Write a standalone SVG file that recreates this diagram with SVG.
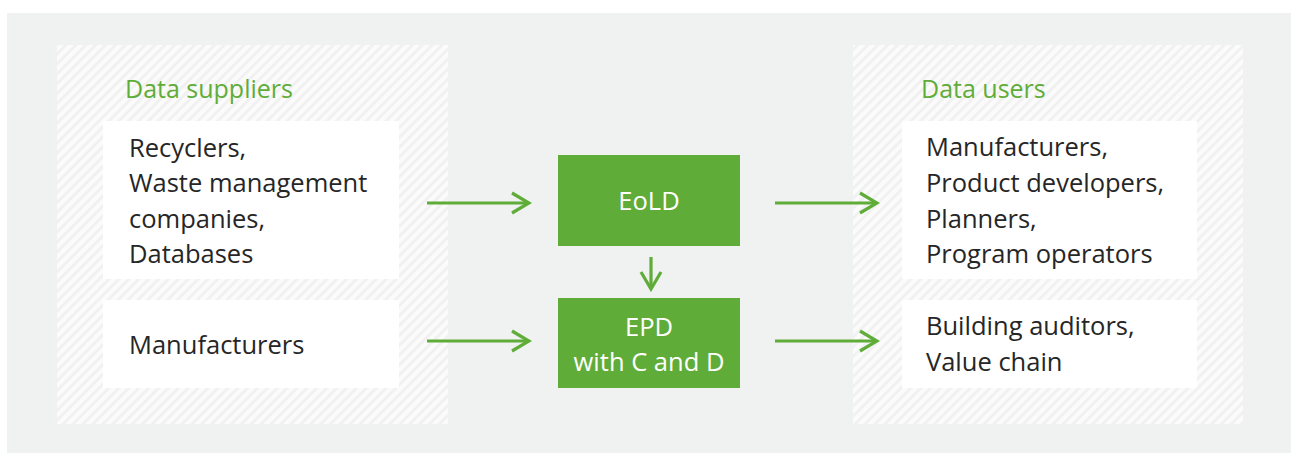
<svg xmlns="http://www.w3.org/2000/svg" width="1291" height="453" viewBox="0 0 1291 453">
  <defs>
    <pattern id="hatch" width="7" height="7" patternUnits="userSpaceOnUse" patternTransform="rotate(45)">
      <rect width="7" height="7" fill="#fbfbfb"/>
      <rect width="3" height="7" fill="#f1f1f1"/>
    </pattern>
    <marker id="chev" viewBox="0 0 24 24" refX="21" refY="12" markerWidth="24" markerHeight="24" markerUnits="userSpaceOnUse" orient="auto">
      <path d="M4 2 L21 12 L4 22" fill="none" stroke="#5fad38" stroke-width="3.2"/>
    </marker>
    <style>
      .panel { fill: url(#hatch); }
      .card { fill: #ffffff; }
      .hub { fill: #5fad38; }
      .head { font-family: "Open Sans", "Noto Sans", sans-serif; font-size: 25px; fill: #5fad38; }
      .txt { font-family: "Open Sans", "Noto Sans", sans-serif; font-size: 25.5px; fill: #262626; }
      .hubtxt { font-family: "Open Sans", "Noto Sans", sans-serif; font-size: 25.5px; fill: #ffffff; text-anchor: middle; }
      .arrow { stroke: #5fad38; stroke-width: 3.2; fill: none; marker-end: url(#chev); }
    </style>
  </defs>

  <!-- backdrop -->
  <rect x="7" y="13" width="1284" height="440" fill="#f0f1f1"/>

  <!-- suppliers side -->
  <g id="suppliers">
    <rect class="panel" x="57" y="45" width="391" height="379"/>
    <text class="head" x="125" y="98">Data suppliers</text>
  </g>
  <g id="recyclers">
    <rect class="card" x="103" y="121" width="296" height="158"/>
    <text class="txt" x="129" y="157">Recyclers,</text>
    <text class="txt" x="129" y="192">Waste management</text>
    <text class="txt" x="129" y="228">companies,</text>
    <text class="txt" x="129" y="263">Databases</text>
  </g>
  <g id="manufacturers-in">
    <rect class="card" x="103" y="300" width="296" height="88"/>
    <text class="txt" x="129" y="354">Manufacturers</text>
  </g>

  <!-- central datasets -->
  <g id="eold">
    <rect class="hub" x="558" y="155" width="182" height="91"/>
    <text class="hubtxt" x="649" y="210">EoLD</text>
  </g>
  <g id="epd">
    <rect class="hub" x="558" y="298" width="182" height="90"/>
    <text class="hubtxt" x="649" y="336">EPD</text>
    <text class="hubtxt" x="649" y="371">with C and D</text>
  </g>

  <!-- users side -->
  <g id="users">
    <rect class="panel" x="853" y="45" width="390" height="379"/>
    <text class="head" x="921" y="98">Data users</text>
  </g>
  <g id="developers">
    <rect class="card" x="902" y="121" width="295" height="158"/>
    <text class="txt" x="926" y="156">Manufacturers,</text>
    <text class="txt" x="926" y="192">Product developers,</text>
    <text class="txt" x="926" y="228">Planners,</text>
    <text class="txt" x="926" y="263">Program operators</text>
  </g>
  <g id="auditors">
    <rect class="card" x="902" y="300" width="295" height="88"/>
    <text class="txt" x="926" y="335">Building auditors,</text>
    <text class="txt" x="926" y="371">Value chain</text>
  </g>

  <!-- flows -->
  <g id="connectors">
    <line class="arrow" x1="427" y1="203" x2="529" y2="203"/>
    <line class="arrow" x1="427" y1="341" x2="529" y2="341"/>
    <line class="arrow" x1="775" y1="203" x2="877" y2="203"/>
    <line class="arrow" x1="775" y1="341" x2="877" y2="341"/>
    <line class="arrow" x1="651" y1="257" x2="651" y2="289"/>
  </g>
</svg>
